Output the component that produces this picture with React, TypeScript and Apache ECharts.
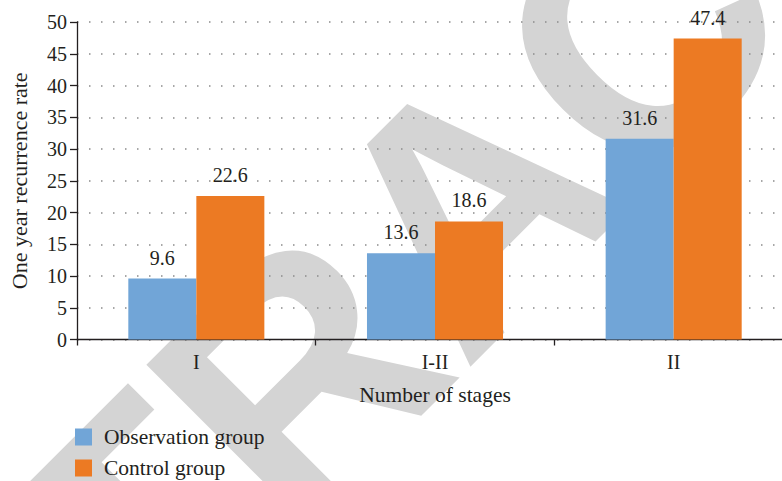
import React, { useEffect, useRef } from "react";
import * as echarts from "echarts";

const categories = ["I", "I-II", "II"];
const observationValues = [9.6, 13.6, 31.6];
const controlValues = [22.6, 18.6, 47.4];
const seriesNames = ["Observation group", "Control group"];
const watermarkText = "RETRACTED";

const FONT = "'Liberation Serif', 'Times New Roman', serif";
const TEXT = "#231f20";

export default function App() {
  const ref = useRef<HTMLDivElement>(null);
  useEffect(() => {
    if (!ref.current) return;
    const chart = echarts.init(ref.current, null, { renderer: "svg" });
    const labelStyle = {
      show: true,
      position: "top",
      distance: 11,
      color: TEXT,
      fontFamily: FONT,
      fontSize: 20,
    };
    const legendBase = {
      orient: "vertical",
      left: 75,
      padding: 0,
      itemWidth: 17,
      itemHeight: 17,
      icon: "rect",
      textStyle: { fontFamily: FONT, fontSize: 21.5, lineHeight: 17, color: TEXT, padding: [0, 0, 0, 7] },
    };
    chart.setOption({
      animation: false,
      backgroundColor: "#ffffff",
      textStyle: { fontFamily: FONT, color: TEXT },
      graphic: [
        {
          type: "text",
          x: 468,
          y: 205,
          rotation: Math.PI / 4,
          z: -100,
          zlevel: 0,
          silent: true,
          style: {
            text: watermarkText,
            fill: "#d4d4d4",
            fontFamily: "'Liberation Sans', Arial, sans-serif",
            fontWeight: "bold",
            fontSize: 335,
            textAlign: "center",
            textVerticalAlign: "middle",
          },
        },
      ],
      grid: { left: 77, right: 0, top: 22, bottom: 141.5, containLabel: false },
      legend: [
        { ...legendBase, top: 426, data: [seriesNames[0]] },
        { ...legendBase, top: 457, data: [seriesNames[1]] },
      ],
      xAxis: {
        type: "category",
        data: categories,
        name: "Number of stages",
        nameLocation: "middle",
        nameGap: 44,
        nameTextStyle: { fontFamily: FONT, fontSize: 21.5, color: TEXT },
        axisLine: { lineStyle: { color: "#231f20", width: 1.3 } },
        axisTick: { show: true, length: 6, inside: false, lineStyle: { color: "#231f20", width: 1.3 } },
        axisLabel: { fontFamily: FONT, fontSize: 20, color: TEXT, margin: 12 },
        splitLine: { show: false },
      },
      yAxis: {
        type: "value",
        min: 0,
        max: 50,
        interval: 5,
        name: "One year recurrence rate",
        nameLocation: "middle",
        nameGap: 47,
        nameTextStyle: { fontFamily: FONT, fontSize: 22, color: TEXT },
        axisLine: { show: true, lineStyle: { color: "#231f20", width: 1.3 } },
        axisTick: { show: true, length: 7, lineStyle: { color: "#231f20", width: 1.3 } },
        axisLabel: { fontFamily: FONT, fontSize: 20, color: TEXT, margin: 10 },
        splitLine: { show: true, lineStyle: { color: "#8a8a8a", width: 1.5, type: [1.5, 10.5] } },
      },
      series: [
        {
          name: seriesNames[0],
          type: "bar",
          data: observationValues,
          barWidth: "28.5%",
          barGap: "0%",
          itemStyle: { color: "#71a5d7" },
          label: labelStyle,
        },
        {
          name: seriesNames[1],
          type: "bar",
          data: controlValues,
          barWidth: "28.5%",
          barGap: "0%",
          itemStyle: { color: "#ec7a23" },
          label: labelStyle,
        },
      ],
    });
    return () => chart.dispose();
  }, []);
  return (
    <div style={{ position: "fixed", left: 0, top: 0, width: 782, height: 481, overflow: "hidden" }}>
      <div ref={ref} style={{ position: "absolute", left: 0, top: 0, width: 793, height: 481 }} />
    </div>
  );
}
